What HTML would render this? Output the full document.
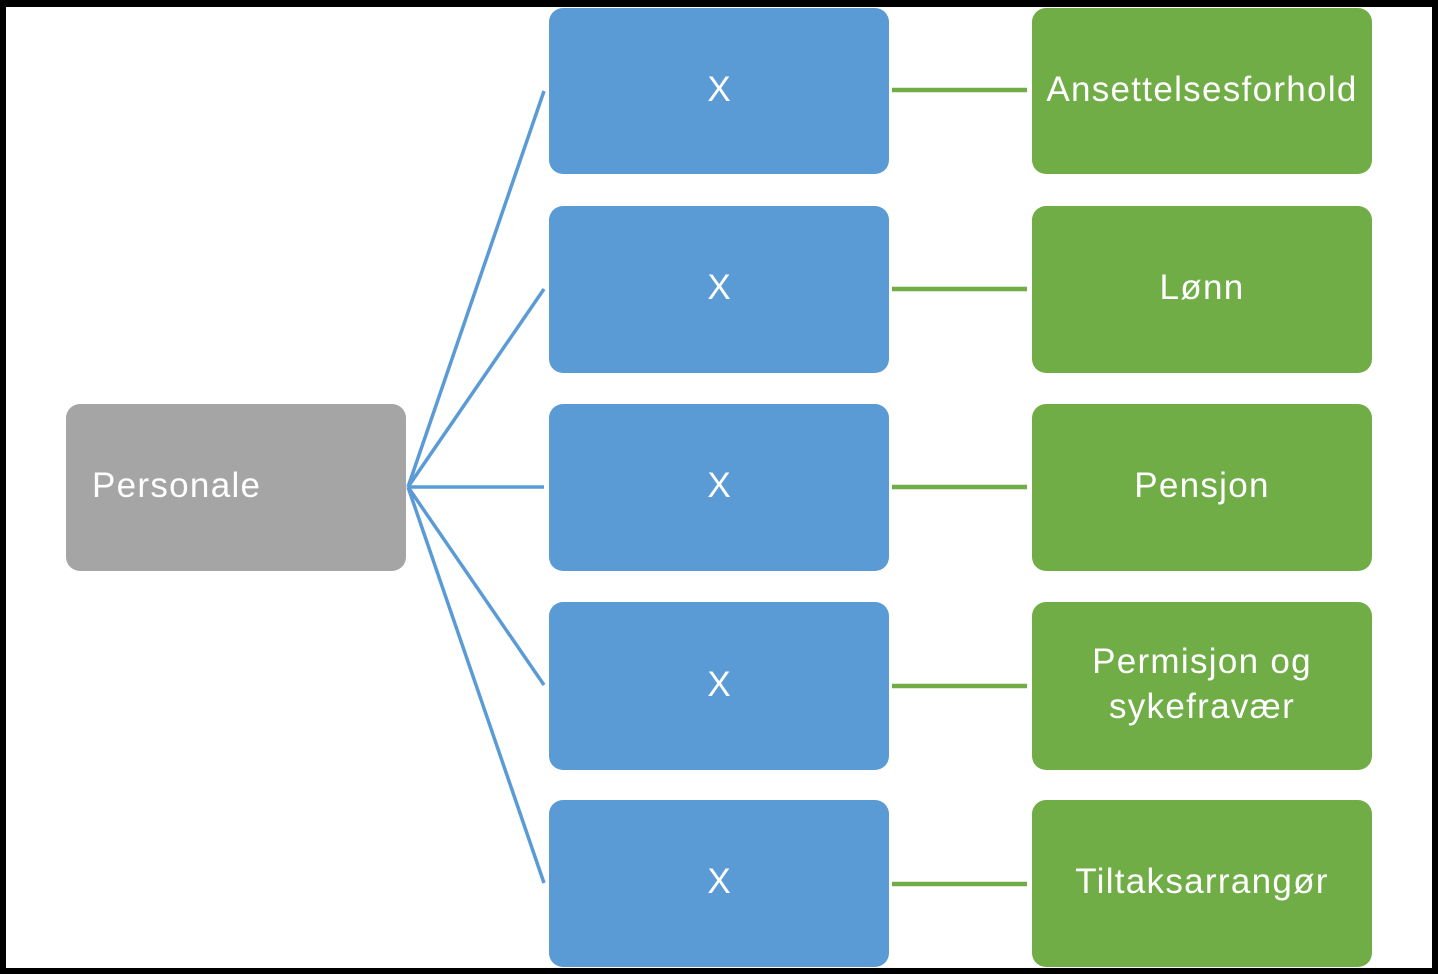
<!DOCTYPE html>
<html><head><style>
html,body{margin:0;padding:0;background:#fff;}
.wrap{position:relative;width:1438px;height:974px;overflow:hidden;font-family:"Liberation Sans","DejaVu Sans",sans-serif;}
.frame{position:absolute;left:0;top:0;width:1438px;height:974px;box-sizing:border-box;border:6px solid #000;border-top-width:7px;}
.b{position:absolute;border-radius:14px;color:#fff;display:flex;align-items:center;justify-content:center;text-align:center;font-size:35px;line-height:45px;letter-spacing:1.3px;padding-bottom:4px;box-sizing:border-box;}
.blue{background:#5b9bd5;left:549px;width:340px;letter-spacing:0;}
.green{background:#70ad47;left:1032px;width:340px;}
.gray{background:#a5a5a5;left:66px;width:340px;top:404px;height:167px;justify-content:flex-start;padding-left:26px;}
svg{position:absolute;left:0;top:0;}
</style></head><body><div class="wrap">
<svg width="1438" height="974">
<g stroke="#5b9bd5" stroke-width="3.5" fill="none">
<line x1="408" y1="487" x2="544" y2="91"/>
<line x1="408" y1="487" x2="544" y2="289"/>
<line x1="408" y1="487" x2="544" y2="487"/>
<line x1="408" y1="487" x2="544" y2="685"/>
<line x1="408" y1="487" x2="544" y2="883"/>
</g>
<g stroke="#70ad47" stroke-width="4.5">
<line x1="892" y1="90" x2="1027" y2="90"/>
<line x1="892" y1="289" x2="1027" y2="289"/>
<line x1="892" y1="487" x2="1027" y2="487"/>
<line x1="892" y1="686" x2="1027" y2="686"/>
<line x1="892" y1="884" x2="1027" y2="884"/>
</g>
</svg>
<div class="b gray">Personale</div>
<div class="b blue" style="top:8px;height:166px">X</div>
<div class="b blue" style="top:206px;height:167px">X</div>
<div class="b blue" style="top:404px;height:167px">X</div>
<div class="b blue" style="top:602px;height:168px">X</div>
<div class="b blue" style="top:800px;height:167px">X</div>
<div class="b green" style="top:8px;height:166px">Ansettelsesforhold</div>
<div class="b green" style="top:206px;height:167px">Lønn</div>
<div class="b green" style="top:404px;height:167px">Pensjon</div>
<div class="b green" style="top:602px;height:168px">Permisjon og<br>sykefravær</div>
<div class="b green" style="top:800px;height:167px">Tiltaksarrangør</div>
<div class="frame"></div>
</div></body></html>
